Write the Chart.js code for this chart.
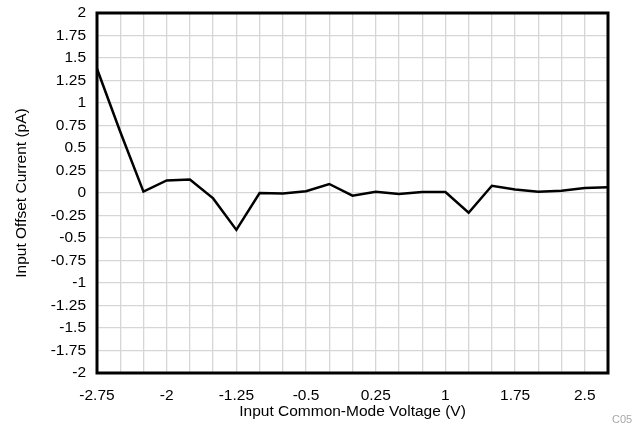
<!DOCTYPE html>
<html>
<head>
<meta charset="utf-8">
<script src="https://cdn.jsdelivr.net/npm/chart.js@4.4.1/dist/chart.umd.min.js"></script>
<style>
  html, body { margin: 0; padding: 0; background: #ffffff; }
  #grafico { display: block; }
</style>
</head>
<body>
<canvas id="grafico" width="639" height="429"></canvas>
<script>
// common-mode voltage (V) and offset current (pA)
const vcm = [-2.75, -2.5, -2.25, -2, -1.75, -1.5, -1.25, -1, -0.75, -0.5, -0.25, 0,
    0.25, 0.5, 0.75, 1, 1.25, 1.5, 1.75, 2, 2.25, 2.5, 2.75]
const ios = [1.38, 0.68, 0.015, 0.14, 0.15, -0.06, -0.41, 0.0, -0.005, 0.02, 0.10, -0.03,
    0.015, -0.01, 0.01, 0.01, -0.22, 0.08, 0.04, 0.015, 0.025, 0.055, 0.065]

// labels shown on the x axis (grid runs every 0.25)
const xTickLabels = [-2.75, -2, -1.25, -0.5, 0.25, 1, 1.75, 2.5]

const grafico = document.getElementById('grafico')

Chart.defaults.font.family = '"Liberation Sans", Arial, sans-serif'
Chart.defaults.font.size = 15.5
Chart.defaults.color = '#000000'

// heavy frame round the plot area plus the small figure tag
const moldura = {
    id: 'moldura',
    afterDraw(chart) {
        const { ctx, chartArea: a } = chart
        ctx.save()
        ctx.strokeStyle = '#000000'
        ctx.lineWidth = 3
        ctx.strokeRect(a.left, a.top, a.right - a.left, a.bottom - a.top)
        ctx.fillStyle = '#a8a8a8'
        ctx.font = '11px "Liberation Sans", Arial, sans-serif'
        ctx.textAlign = 'left'
        ctx.textBaseline = 'middle'
        ctx.fillText('C05', 612, 420)
        ctx.restore()
    }
}

new Chart(grafico, {
    type: 'line',
    data: {
        datasets: [{
            data: vcm.map((v, i) => ({ x: v, y: ios[i] })),
            borderColor: '#000000',
            borderWidth: 2.5,
            pointRadius: 0,
            tension: 0,
            fill: false
        }]
    },
    options: {
        responsive: false,
        animation: false,
        layout: { padding: { left: 0, right: 31, top: 13, bottom: 0 } },
        plugins: {
            legend: { display: false },
            tooltip: { enabled: false }
        },
        scales: {
            x: {
                type: 'linear',
                min: -2.75,
                max: 2.75,
                afterFit: (s) => {
                    s.height = 56
                    s.paddingLeft = 0
                    s.paddingRight = 0
                },
                grid: { color: '#d6d6d6', lineWidth: 1.3, drawTicks: false },
                border: { display: false },
                ticks: {
                    stepSize: 0.25,
                    autoSkip: false,
                    maxRotation: 0,
                    padding: 13,
                    callback: (value) => {
                        const v = Math.round(value * 100) / 100
                        return xTickLabels.includes(v) ? String(v) : ''
                    }
                },
                title: {
                    display: true,
                    text: 'Input Common-Mode Voltage (V)',
                    padding: { top: 0, bottom: 8 }
                }
            },
            y: {
                min: -2,
                max: 2,
                afterFit: (s) => {
                    s.width = 97
                    s.paddingTop = 0
                    s.paddingBottom = 0
                },
                grid: { color: '#d6d6d6', lineWidth: 1.3, drawTicks: false },
                border: { display: false },
                ticks: {
                    stepSize: 0.25,
                    autoSkip: false,
                    padding: 11,
                    callback: (value) => String(Math.round(value * 100) / 100)
                },
                title: {
                    display: true,
                    text: 'Input Offset Current (pA)',
                    padding: { top: 12, bottom: 0 }
                }
            }
        }
    },
    plugins: [moldura]
})
</script>
</body>
</html>
